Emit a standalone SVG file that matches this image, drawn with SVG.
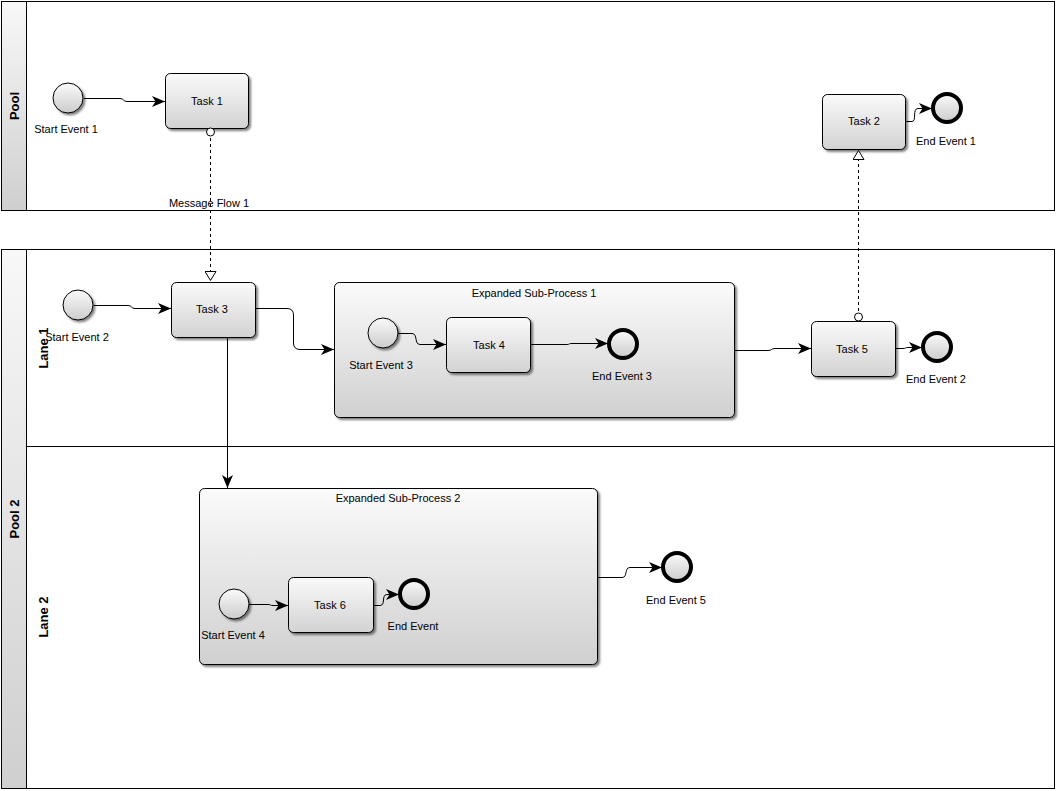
<svg xmlns="http://www.w3.org/2000/svg" width="1056" height="791" viewBox="0 0 1056 791">
<style>
text{font-family:"Liberation Sans",Arial,sans-serif;font-size:11px;fill:#000;text-anchor:middle}
.hdr{font-weight:bold;font-size:13px}
.pool{fill:#fff;stroke:#000;stroke-width:1}
.band{fill:url(#gBand);stroke:#000;stroke-width:1}
.task{fill:url(#gTask);stroke:#000;stroke-width:1;filter:url(#sh)}
.sub{fill:url(#gSub);stroke:#000;stroke-width:1;filter:url(#sh)}
.start{fill:url(#gEv);stroke:#000;stroke-width:1;filter:url(#sh)}
.end{fill:url(#gEv);stroke:#000;stroke-width:4}
.seq{fill:none;stroke:#000;stroke-width:1;marker-end:url(#arr)}
.msg{fill:none;stroke:#000;stroke-width:1;stroke-dasharray:3,3;marker-end:url(#open);marker-start:url(#dot)}
</style>
<defs>
<linearGradient id="gBand" x1="0" y1="0" x2="0" y2="1"><stop offset="0" stop-color="#f8f8f8"/><stop offset="1" stop-color="#cfcfcf"/></linearGradient>
<linearGradient id="gTask" x1="0" y1="0" x2="0" y2="1"><stop offset="0" stop-color="#fafafa"/><stop offset="1" stop-color="#d2d2d2"/></linearGradient>
<linearGradient id="gSub" x1="0" y1="0" x2="0" y2="1"><stop offset="0" stop-color="#fbfbfb"/><stop offset="1" stop-color="#d0d0d0"/></linearGradient>
<linearGradient id="gEv" x1="0" y1="0" x2="0" y2="1"><stop offset="0" stop-color="#fafafa"/><stop offset="1" stop-color="#cccccc"/></linearGradient>
<filter id="sh" x="-10%" y="-10%" width="130%" height="130%"><feDropShadow dx="2" dy="2" stdDeviation="0.8" flood-color="#000" flood-opacity="0.5"/></filter>
<marker id="arr" viewBox="0 0 13 11" refX="13" refY="5.5" markerWidth="13" markerHeight="11" markerUnits="userSpaceOnUse" orient="auto"><path d="M0,0 L13,5.5 L0,11 L3.5,5.5 Z" fill="#000"/></marker>
<marker id="open" viewBox="0 0 10 12" refX="10" refY="6" markerWidth="10" markerHeight="12" markerUnits="userSpaceOnUse" orient="auto"><path d="M0.5,0.5 L9.5,6 L0.5,11.5 Z" fill="#fff" stroke="#000" stroke-width="1"/></marker>
<marker id="dot" viewBox="0 0 10 10" refX="5" refY="5" markerWidth="10" markerHeight="10" markerUnits="userSpaceOnUse" orient="auto"><circle cx="5" cy="5" r="4" fill="#fff" stroke="#000" stroke-width="1"/></marker>
</defs>

<g id="pool1">
<rect class="pool" x="1.5" y="1.5" width="1053" height="209"/>
<rect class="band" x="1.5" y="1.5" width="25" height="209"/>
<text class="hdr" transform="translate(19,106) rotate(-90)">Pool</text>
</g>
<g id="pool2">
<rect class="pool" x="1.5" y="249.5" width="1053" height="539"/>
<rect class="band" x="1.5" y="249.5" width="25" height="539"/>
<text class="hdr" transform="translate(19,519) rotate(-90)">Pool 2</text>
</g>
<g id="lane1">
<text class="hdr" transform="translate(48,348) rotate(-90)">Lane 1</text>
</g>
<g id="lane2">
<line x1="26.5" y1="446.5" x2="1054.5" y2="446.5" stroke="#000"/>
<text class="hdr" transform="translate(48,617) rotate(-90)">Lane 2</text>
</g>

<g id="startEvent1"><circle class="start" cx="68" cy="98" r="15"/><text x="66" y="133">Start Event 1</text></g>
<g id="task1"><rect class="task" x="165.5" y="73.5" width="83" height="55" rx="5"/><text x="207" y="105">Task 1</text></g>
<g id="task2"><rect class="task" x="822.5" y="94.5" width="83" height="55" rx="5"/><text x="864" y="125">Task 2</text></g>
<g id="endEvent1"><circle class="end" cx="947" cy="108" r="14"/><text x="946" y="145">End Event 1</text></g>

<g id="startEvent2"><circle class="start" cx="78" cy="305" r="15"/><text x="77" y="341">Start Event 2</text></g>
<g id="task3"><rect class="task" x="171.5" y="282.5" width="84" height="55" rx="5"/><text x="212" y="313">Task 3</text></g>

<g id="subProcess1"><rect class="sub" x="334.5" y="282.5" width="400" height="135" rx="5"/><text x="534" y="297">Expanded Sub-Process 1</text></g>
<g id="startEvent3"><circle class="start" cx="383" cy="333" r="15"/><text x="381" y="369">Start Event 3</text></g>
<g id="task4"><rect class="task" x="446.5" y="317.5" width="84" height="55" rx="5"/><text x="489" y="349">Task 4</text></g>
<g id="endEvent3"><circle class="end" cx="623" cy="344" r="14"/><text x="622" y="380">End Event 3</text></g>

<g id="task5"><rect class="task" x="811.5" y="321.5" width="84" height="55" rx="5"/><text x="852" y="353">Task 5</text></g>
<g id="endEvent2"><circle class="end" cx="937" cy="347" r="14"/><text x="936" y="383">End Event 2</text></g>

<g id="subProcess2"><rect class="sub" x="199.5" y="488.5" width="398" height="176" rx="5"/><text x="398" y="502">Expanded Sub-Process 2</text></g>
<g id="startEvent4"><circle class="start" cx="234" cy="604" r="15"/><text x="233" y="639">Start Event 4</text></g>
<g id="task6"><rect class="task" x="288.5" y="577.5" width="85" height="55" rx="5"/><text x="330" y="609">Task 6</text></g>
<g id="endEvent"><circle class="end" cx="414" cy="594" r="14"/><text x="413" y="630">End Event</text></g>
<g id="endEvent5"><circle class="end" cx="677" cy="567" r="14"/><text x="676" y="604">End Event 5</text></g>

<g id="connectors">
<path class="seq" d="M84,98.5 H120 C124,98.5 123,101.5 127,101.5 H165"/>
<path class="msg" d="M210.5,132 V281"/>
<text x="209" y="207">Message Flow 1</text>
<path class="msg" d="M858.5,317 V150"/>
<path class="seq" d="M906,121.5 H912 C917,121.5 912,108.5 918,108.5 H932"/>
<path class="seq" d="M94,305.5 H128 C132,305.5 131,308.5 135,308.5 H171"/>
<path class="seq" d="M256,308.5 H287 Q293.5,308.5 293.5,315 V343 Q293.5,349.5 300,349.5 H334"/>
<path class="seq" d="M227.5,337 V488"/>
<path class="seq" d="M398,333.5 H412 C418,333.5 414,344.5 420,344.5 H446"/>
<path class="seq" d="M531,344.5 H567 C570,344.5 568,343.5 572,343.5 H608"/>
<path class="seq" d="M735,350.5 H768 C772,350.5 771,348.5 775,348.5 H811"/>
<path class="seq" d="M896,348.5 H903 C906,348.5 905,347.5 908,347.5 H922"/>
<path class="seq" d="M249,604.5 H268 C271,604.5 270,605.5 273,605.5 H288"/>
<path class="seq" d="M373,605.5 H380 C386,605.5 381,594.5 387,594.5 H399"/>
<path class="seq" d="M598,577.5 H622 C628,577.5 624,567.5 630,567.5 H662"/>
</g>
</svg>
